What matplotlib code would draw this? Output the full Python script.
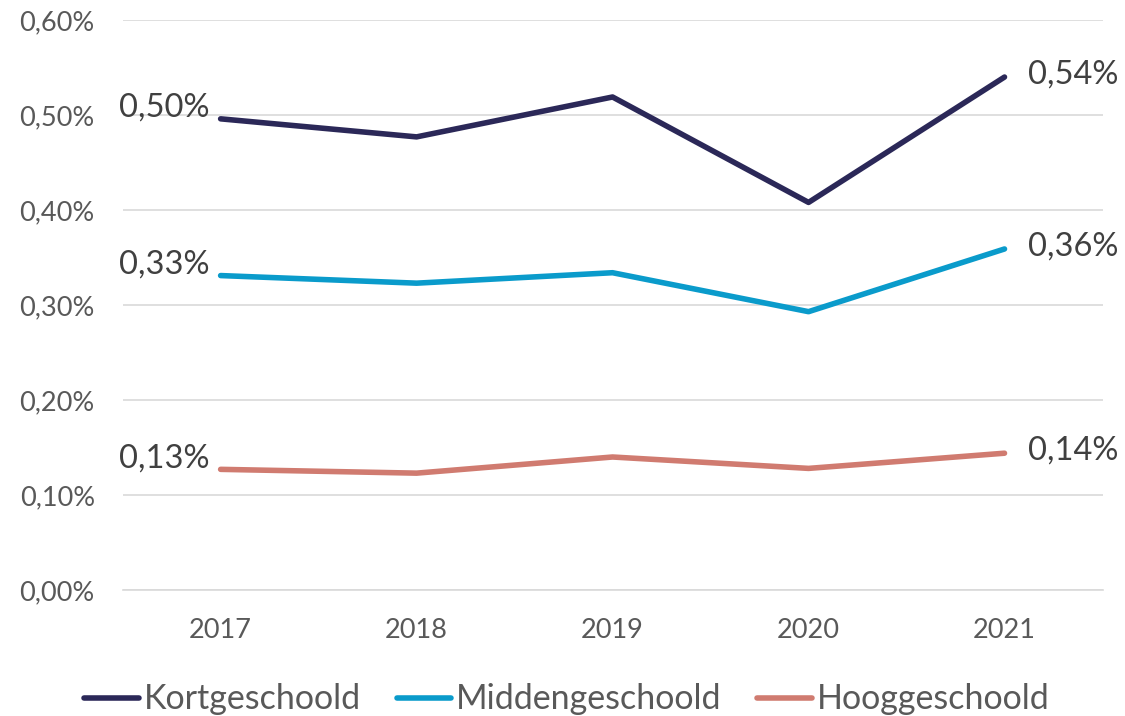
import matplotlib
matplotlib.use('Agg')
import matplotlib.pyplot as plt
from matplotlib.ticker import FuncFormatter

years = ['2017', '2018', '2019', '2020', '2021']
kort = [0.496, 0.477, 0.519, 0.408, 0.540]
midden = [0.331, 0.323, 0.334, 0.293, 0.359]
hoog = [0.127, 0.123, 0.140, 0.128, 0.144]

series = [
    ('Kortgeschoold', kort, '#2B2858'),
    ('Middengeschoold', midden, '#0A9BCB'),
    ('Hooggeschoold', hoog, '#D07B70'),
]

plt.rcParams['font.family'] = ['Lato', 'DejaVu Sans']
grey = '#595959'

fig = plt.figure(figsize=(11.25, 7.16), dpi=100)
ax = fig.add_axes([0.109, 0.176, 0.871, 0.796])

x = range(len(years))
for name, vals, col in series:
    ax.plot(x, vals, color=col, lw=4, label=name, solid_capstyle='round')
    ax.annotate(f'{vals[0]:.2f}%'.replace('.', ','), (0, vals[0]), xytext=(-8, 8),
                textcoords='offset points', ha='right', va='center',
                fontsize=23.5, color='#404040')
    ax.annotate(f'{vals[-1]:.2f}%'.replace('.', ','), (4, vals[-1]), xytext=(17, 2),
                textcoords='offset points', ha='left', va='center',
                fontsize=23.5, color='#404040')

ax.set_xlim(-0.5, 4.5)
ax.set_ylim(0, 0.6)
ax.set_yticks([0, 0.1, 0.2, 0.3, 0.4, 0.5, 0.6])
ax.yaxis.set_major_formatter(FuncFormatter(lambda v, p: f'{v:.2f}%'.replace('.', ',')))
ax.set_xticks(list(x))
ax.set_xticklabels(years)
ax.grid(axis='y', color='#D9D9D9', lw=1.2)
ax.set_axisbelow(True)
for s in ['top', 'right', 'left']:
    ax.spines[s].set_visible(False)
ax.spines['bottom'].set_color('#D9D9D9')
ax.spines['bottom'].set_linewidth(1.2)
ax.tick_params(axis='both', length=0, labelsize=19.5, colors=grey)
ax.tick_params(axis='x', pad=20)
ax.tick_params(axis='y', pad=20)

fig.legend(loc='lower center', bbox_to_anchor=(0.504, -0.042), ncol=3, frameon=False,
           fontsize=24.5, labelcolor=grey, handlelength=1.6, handletextpad=0.15,
           columnspacing=1.05)

fig.savefig('out.png', dpi=100)
